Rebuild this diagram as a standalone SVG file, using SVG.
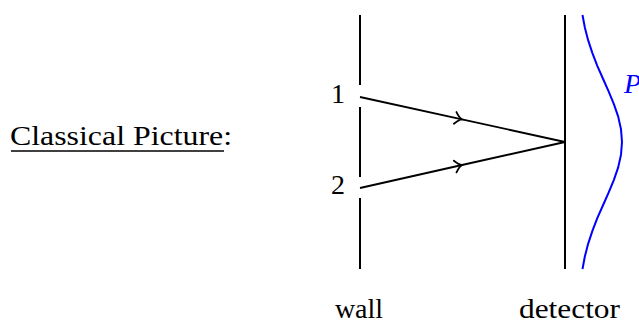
<svg xmlns="http://www.w3.org/2000/svg" width="639" height="323" viewBox="0 0 639 323">
<style>
  .t { font-family: "Liberation Serif", "DejaVu Serif", "Times New Roman", serif; font-size: 28px; fill: #000; }
  .ln { stroke: #000; stroke-width: 2; fill: none; }
  .ray { stroke: #000; stroke-width: 1.8; fill: none; marker-mid: url(#arr); }
</style>
<defs>
  <marker id="arr" markerUnits="userSpaceOnUse" markerWidth="20" markerHeight="20" viewBox="-10 -10 20 20" refX="0" refY="0" orient="auto">
    <path d="M-7,-6 Q-3,-1 0,0 Q-3,1 -7,6" fill="none" stroke="#000" stroke-width="1.8" stroke-linecap="round"/>
  </marker>
</defs>
<rect width="639" height="323" fill="#fff"/>
<g id="title">
  <text class="t" font-family="Liberation Serif, serif" x="10" y="145" textLength="222" lengthAdjust="spacingAndGlyphs">Classical Picture:</text>
  <line x1="11" y1="151" x2="224" y2="151" stroke="#000" stroke-width="1.3"/>
</g>
<g id="wall">
  <line class="ln" x1="360" y1="15" x2="360" y2="85"/>
  <line class="ln" x1="360" y1="107" x2="360" y2="177"/>
  <line class="ln" x1="360" y1="198" x2="360" y2="269"/>
  <text class="t" font-family="Liberation Serif, serif" x="359" y="318" text-anchor="middle">wall</text>
</g>
<g id="slit1"><text class="t" font-family="Liberation Serif, serif" x="338" y="103" text-anchor="middle">1</text></g>
<g id="slit2"><text class="t" font-family="Liberation Serif, serif" x="338" y="194" text-anchor="middle">2</text></g>
<g id="detector">
  <line class="ln" x1="565" y1="15" x2="565" y2="269"/>
  <text class="t" font-family="Liberation Serif, serif" x="519" y="318" textLength="101" lengthAdjust="spacingAndGlyphs">detector</text>
</g>
<g id="distribution">
  <polyline fill="none" stroke="#0000ff" stroke-width="2" stroke-linejoin="round" points="582.5,15 584.9,27.7 588.2,40.4 592.4,53.1 597.3,65.8 602.9,78.5 608.5,91.2 613.8,103.9 618.2,116.6 621,129.3 622,142 621,154.7 618.2,167.4 613.8,180.1 608.5,192.8 602.9,205.5 597.3,218.2 592.4,230.9 588.2,243.6 584.9,256.3 582.5,269"/>
  <text class="t" font-family="Liberation Serif, serif" x="624" y="93" fill="#0000ff" style="fill:#0000ff;font-style:italic">P</text>
</g>
<g id="connectors">
  <path class="ray" d="M360,97 L462,119.4 L565,142"/>
  <path class="ray" d="M360,188 L462,165 L565,142"/>
</g>
</svg>
